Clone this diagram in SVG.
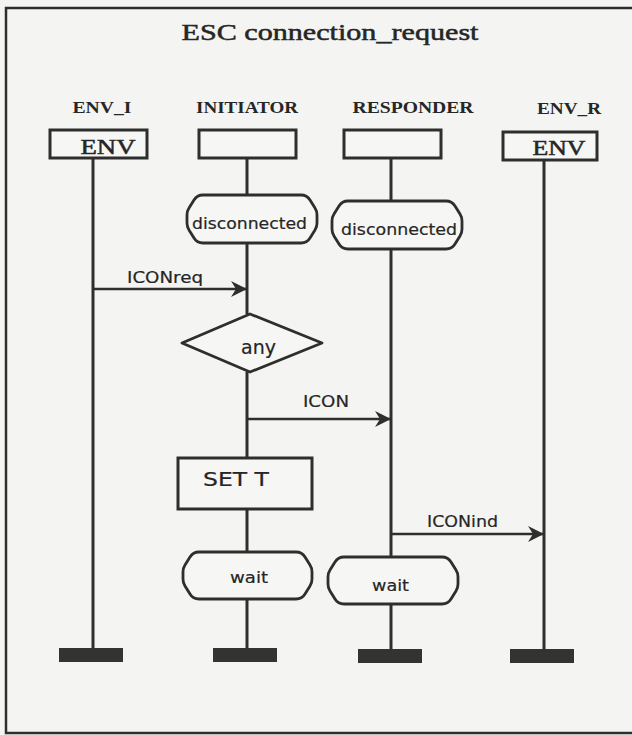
<svg xmlns="http://www.w3.org/2000/svg" width="632" height="735" viewBox="0 0 632 735">
<style>
.bg{fill:#f4f4f2}
.frame{fill:none;stroke:#2e2e2e;stroke-width:2.5}
.box{fill:#f6f6f4;stroke:#2e2e2e;stroke-width:3}
.shape{fill:#f6f6f4;stroke:#2e2e2e;stroke-width:2.8;stroke-linejoin:round}
.life{stroke:#2e2e2e;stroke-width:3;fill:none}
.msg{stroke:#2e2e2e;stroke-width:2.5;fill:none}
.bar{fill:#333333}
.title{font-family:"Liberation Serif",serif;font-size:23px;fill:#262626;stroke:#262626;stroke-width:0.5}
.head{font-family:"Liberation Serif",serif;font-size:16px;font-weight:bold;fill:#262626}
.env{font-family:"Liberation Serif",serif;font-size:21px;fill:#262626;stroke:#262626;stroke-width:0.5}
.lbl{font-family:"DejaVu Sans",sans-serif;font-size:16px;fill:#262626;stroke:#262626;stroke-width:0.2}
.big{font-family:"DejaVu Sans",sans-serif;font-size:19px;fill:#262626;stroke:#262626;stroke-width:0.2}
</style>
<defs>
<marker id="ah" markerUnits="userSpaceOnUse" markerWidth="18" markerHeight="18" refX="16" refY="8" orient="auto">
<path d="M0,0 L16,8 L0,16 L5,8 z" fill="#2e2e2e"/>
</marker>
</defs>
<rect class="bg" x="0" y="0" width="632" height="735"/>
<rect class="frame" x="6" y="8" width="640" height="725"/>
<text class="title" x="330" y="40" text-anchor="middle" textLength="297" lengthAdjust="spacingAndGlyphs">ESC connection_request</text>

<g id="connectors">
<line class="life" x1="93" y1="158" x2="93" y2="649"/>
<line class="life" x1="247" y1="158" x2="247" y2="196"/>
<line class="life" x1="247" y1="243" x2="247" y2="314"/>
<line class="life" x1="247" y1="372" x2="247" y2="458"/>
<line class="life" x1="247" y1="509" x2="247" y2="552"/>
<line class="life" x1="247" y1="599" x2="247" y2="649"/>
<line class="life" x1="391" y1="158" x2="391" y2="202"/>
<line class="life" x1="391" y1="249" x2="391" y2="557"/>
<line class="life" x1="391" y1="604" x2="391" y2="649"/>
<line class="life" x1="544" y1="160" x2="544" y2="649"/>
<g id="m_iconreq">
<line class="msg" x1="93" y1="289" x2="247" y2="289" marker-end="url(#ah)"/>
<text class="lbl" x="127" y="283" textLength="76" lengthAdjust="spacingAndGlyphs">ICONreq</text>
</g>
<g id="m_icon">
<line class="msg" x1="247" y1="419" x2="391" y2="419" marker-end="url(#ah)"/>
<text class="lbl" x="303" y="407" textLength="46" lengthAdjust="spacingAndGlyphs">ICON</text>
</g>
<g id="m_iconind">
<line class="msg" x1="391" y1="534" x2="544" y2="534" marker-end="url(#ah)"/>
<text class="lbl" x="427" y="527" textLength="71" lengthAdjust="spacingAndGlyphs">ICONind</text>
</g>
</g>

<g id="env_i">
<text class="head" x="102" y="113" text-anchor="middle" textLength="59" lengthAdjust="spacingAndGlyphs">ENV_I</text>
<rect class="box" x="50" y="130" width="97" height="28"/>
<text class="env" x="108" y="154" text-anchor="middle" textLength="55" lengthAdjust="spacingAndGlyphs">ENV</text>
<rect class="bar" x="59" y="648" width="64" height="14"/>
</g>
<g id="initiator">
<text class="head" x="247" y="113" text-anchor="middle" textLength="102" lengthAdjust="spacingAndGlyphs">INITIATOR</text>
<rect class="box" x="199" y="130" width="97" height="28"/>
<rect class="bar" x="213" y="648" width="64" height="14"/>
</g>
<g id="responder">
<text class="head" x="413" y="113" text-anchor="middle" textLength="121" lengthAdjust="spacingAndGlyphs">RESPONDER</text>
<rect class="box" x="344" y="130" width="97" height="28"/>
<rect class="bar" x="358" y="649" width="64" height="14"/>
</g>
<g id="env_r">
<text class="head" x="569" y="114" text-anchor="middle" textLength="64" lengthAdjust="spacingAndGlyphs">ENV_R</text>
<rect class="box" x="503" y="132" width="94" height="28"/>
<text class="env" x="559" y="155" text-anchor="middle" textLength="53" lengthAdjust="spacingAndGlyphs">ENV</text>
<rect class="bar" x="510" y="649" width="64" height="14"/>
</g>

<g id="init_disconnected">
<path class="shape" d="M203,195 H301 Q307,195 310,200 L315,208 Q317,211 317,215 V223 Q317,227 315,230 L310,238 Q307,243 301,243 H203 Q197,243 194,238 L189,230 Q187,227 187,223 V215 Q187,211 189,208 L194,200 Q197,195 203,195 Z"/>
<text class="lbl" x="249.5" y="229" text-anchor="middle" textLength="115" lengthAdjust="spacingAndGlyphs">disconnected</text>
</g>
<g id="resp_disconnected">
<path class="shape" d="M348,201 H446 Q452,201 455,206 L460,214 Q462,217 462,221 V229 Q462,233 460,236 L455,244 Q452,249 446,249 H348 Q342,249 339,244 L334,236 Q332,233 332,229 V221 Q332,217 334,214 L339,206 Q342,201 348,201 Z"/>
<text class="lbl" x="399" y="235" text-anchor="middle" textLength="116" lengthAdjust="spacingAndGlyphs">disconnected</text>
</g>
<g id="any">
<polygon class="shape" points="250,314 322,343 250,372 182,343"/>
<text class="big" x="258.5" y="354" text-anchor="middle" textLength="35" lengthAdjust="spacingAndGlyphs">any</text>
</g>
<g id="set_t">
<rect class="box" x="178" y="458" width="134" height="51"/>
<text class="big" x="203" y="486" textLength="66" lengthAdjust="spacingAndGlyphs">SET T</text>
</g>
<g id="init_wait">
<path class="shape" d="M199,552 H296 Q302,552 305,557 L310,565 Q312,568 312,572 V579 Q312,583 310,586 L305,594 Q302,599 296,599 H199 Q193,599 190,594 L185,586 Q183,583 183,579 V572 Q183,568 185,565 L190,557 Q193,552 199,552 Z"/>
<text class="lbl" x="249" y="583" text-anchor="middle" textLength="38" lengthAdjust="spacingAndGlyphs">wait</text>
</g>
<g id="resp_wait">
<path class="shape" d="M344,557 H442 Q448,557 451,562 L456,570 Q458,573 458,577 V584 Q458,588 456,591 L451,599 Q448,604 442,604 H344 Q338,604 335,599 L330,591 Q328,588 328,584 V577 Q328,573 330,570 L335,562 Q338,557 344,557 Z"/>
<text class="lbl" x="390.5" y="591" text-anchor="middle" textLength="37" lengthAdjust="spacingAndGlyphs">wait</text>
</g>
</svg>
